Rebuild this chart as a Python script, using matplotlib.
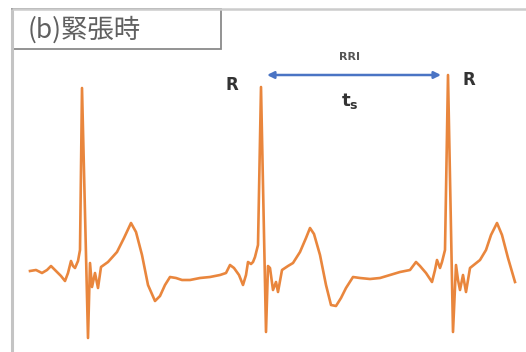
import matplotlib
matplotlib.use("Agg")
import matplotlib.pyplot as plt
from matplotlib.patches import Rectangle

plt.rcParams['font.family'] = ['Noto Sans CJK JP', 'DejaVu Sans']

# ECG trace: time (sample index) and amplitude (arbitrary units, baseline ~ 0)
t = [30, 36, 42, 47, 51, 56, 61, 65, 68, 71, 73, 75, 78, 80, 82, 88, 90, 92, 95, 98,
     101, 108, 117, 124, 131, 136, 142, 148, 155, 160, 165, 170, 176, 182, 190, 200,
     210, 220, 226, 230, 234, 239, 243, 246, 248, 251, 253, 255, 258, 261, 266, 268,
     270, 273, 276, 278, 282, 288, 293, 300, 306, 310, 314, 320, 326, 331, 336, 341,
     346, 353, 360, 370, 380, 390, 400, 410, 416, 420, 426, 432, 435, 437, 440, 442,
     445, 448, 453, 456, 458, 460, 463, 466, 470, 475, 480, 486, 491, 497, 502, 508, 515]
y_px = [271, 270, 273, 270, 266, 271, 276, 281, 273, 261, 266, 268, 261, 250, 88, 338,
        263, 287, 273, 288, 267, 262, 252, 238, 223, 232, 255, 285, 301, 296, 285, 277,
        278, 280, 280, 278, 277, 275, 273, 265, 268, 275, 285, 275, 262, 264, 262, 257,
        245, 87, 332, 266, 268, 290, 282, 292, 270, 266, 263, 252, 238, 228, 234, 255,
        285, 305, 306, 298, 288, 277, 278, 279, 278, 275, 272, 270, 262, 266, 273, 282,
        270, 260, 268, 262, 250, 75, 332, 265, 280, 290, 275, 292, 268, 264, 260, 250,
        235, 223, 235, 258, 282]
amp = [278 - v for v in y_px]

# R-peak times used for the RR-interval marker
r_peaks = [261, 448]
rri_label = "RRI"
title = "(b)緊張時"

fig = plt.figure(figsize=(5.26, 3.52), dpi=100)
ax = fig.add_axes([0, 0, 1, 1])
ax.set_xlim(0, 526)
ax.set_ylim(278 - 352, 278)
ax.axis('off')

# panel frame (left and top edges)
ax.plot([12, 12], [278 - 9, 278 - 352], color='#c4c4c4', lw=2.2, solid_capstyle='butt')
ax.plot([12, 526], [278 - 9, 278 - 9], color='#cccccc', lw=1.8, solid_capstyle='butt')

# title box
ax.add_patch(Rectangle((12, 278 - 49), 209, 40, fill=False, edgecolor='#8a8a8a', lw=1.3))
ax.text(28, 278 - 30, title, fontsize=19, color='#606060', va='center', ha='left')

# ECG trace
ax.plot(t, amp, color='#E9863D', lw=1.9, solid_joinstyle='round')

# RR interval arrow
ax.annotate('', xy=(r_peaks[0] + 6, 278 - 75), xytext=(r_peaks[1] - 7, 278 - 75),
            arrowprops=dict(arrowstyle='<|-|>', color='#4A74C4', lw=1.8,
                            mutation_scale=10, shrinkA=0, shrinkB=0))
ax.text(349, 278 - 57, rri_label, fontsize=8, fontweight='bold', color='#555555',
        ha='center', va='center', family='DejaVu Sans')
ax.text(350, 278 - 101, r'$\mathbf{t_s}$', fontsize=13, color='#333333',
        ha='center', va='center')

# R labels
ax.text(r_peaks[0] - 29, 278 - 85, 'R', fontsize=12, fontweight='bold', color='#333333',
        ha='center', va='center', family='DejaVu Sans')
ax.text(r_peaks[1] + 21, 278 - 80, 'R', fontsize=12, fontweight='bold', color='#333333',
        ha='center', va='center', family='DejaVu Sans')

fig.savefig('out.png', dpi=100)
